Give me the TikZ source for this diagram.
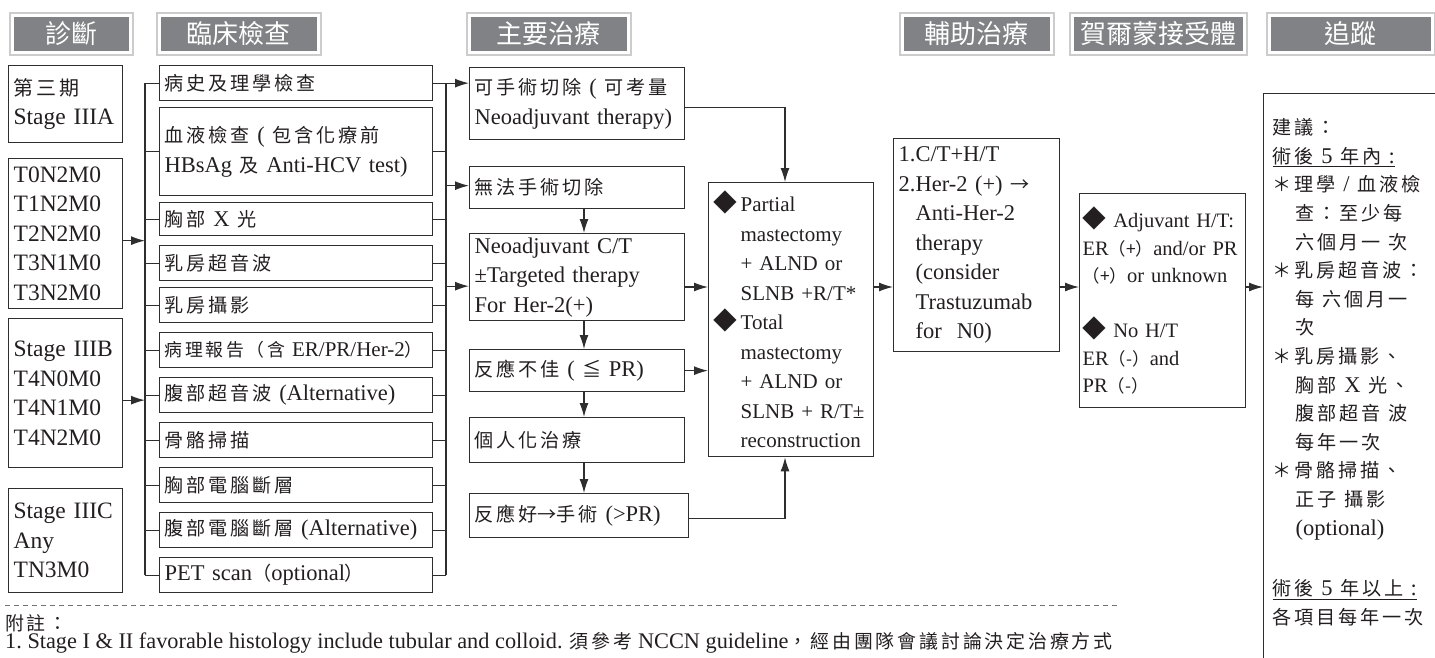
\documentclass[tikz,border=0pt]{standalone}
\usepackage{fontspec}
\setmainfont{Liberation Serif}
\newfontfamily\zh[Scale=0.85,LetterSpace=15]{Noto Sans CJK TC}
\newfontfamily\zhp[Scale=0.85]{Noto Sans CJK TC}
\newfontfamily\hdfont{Noto Sans CJK TC}
\usetikzlibrary{arrows.meta}
\definecolor{hdgray}{HTML}{808285}
\definecolor{ink}{HTML}{231F20}
\definecolor{frame}{HTML}{2E2E2E}
\newcommand{\dia}{{\fontsize{28}{29.5}\zhp ◆}}
\tikzset{
    hdr/.style={fill=hdgray, draw=white, line width=2.5pt,
        preaction={draw=black!20, line width=7pt}, % soft rim round the header
        text=white, font=\hdfont\fontsize{26}{26}\selectfont,
        anchor=north west, minimum height=37pt, inner sep=0pt},
    box/.style={draw=frame, line width=1.3pt, anchor=north west,
        align=left, inner xsep=5pt, inner ysep=1pt, text=ink,
        font=\fontsize{22.5}{29.5}\selectfont},
    boxsize/.code 2 args={\pgfmathsetmacro\bxw{#1-10}%
        \tikzset{minimum width=#1pt, minimum height=#2pt, text width=\bxw pt}},
    arr/.style={draw=frame, line width=1.3pt, -{Latex[length=14pt,width=9pt]}},
    ln/.style={draw=frame, line width=1.3pt},
    note/.style={text=ink, anchor=west, inner sep=0pt, font=\fontsize{22.3}{24}\selectfont},
}
\begin{document}
\begin{tikzpicture}[x=1pt,y=-1pt]
    \useasboundingbox (0,0) rectangle (1435,657);

    % column headers
    \node[hdr, minimum width=118pt] (hdDiag)   at (11,14)   {診斷};
    \node[hdr, minimum width=159pt] (hdExam)   at (158,14)  {臨床檢查};
    \node[hdr, minimum width=159pt] (hdMain)   at (468,14)  {主要治療};
    \node[hdr, minimum width=149pt] (hdAdj)    at (901,14)  {輔助治療};
    \node[hdr, minimum width=172pt] (hdHorm)   at (1071,14) {賀爾蒙接受體};
    \node[hdr, minimum width=163pt] (hdFollow) at (1268,14) {追蹤};

    % stages
    \node[box, boxsize={114}{77}, font=\fontsize{23.5}{29.5}\selectfont] (d1) at (8,65)
        {{\zh 第三期}\\Stage IIIA};
    \node[box, boxsize={114}{150}, font=\fontsize{23.5}{29.5}\selectfont] (d2) at (8,158)
        {T0N2M0\\T1N2M0\\T2N2M0\\T3N1M0\\T3N2M0};
    \node[box, boxsize={114}{149}, font=\fontsize{23.5}{29.5}\selectfont] (d3) at (8,318)
        {Stage IIIB\\T4N0M0\\T4N1M0\\T4N2M0};
    \node[box, boxsize={114}{104}, font=\fontsize{23.5}{29.5}\selectfont] (d4) at (8,488)
        {Stage IIIC\\Any\\TN3M0};

    % clinical work-up
    \node[box, boxsize={273}{35}] (c1)  at (159,65)  {\zh 病史及理學檢查};
    \node[box, boxsize={273}{88}] (c2)  at (159,107) {{\zh 血液檢查} ( {\zh 包含化療前}\\HBsAg {\zh 及} Anti-HCV test)};
    \node[box, boxsize={273}{33}] (c3)  at (159,202) {{\zh 胸部} X {\zh 光}};
    \node[box, boxsize={273}{35}] (c4)  at (159,245) {\zh 乳房超音波};
    \node[box, boxsize={273}{35}] (c5)  at (159,287) {\zh 乳房攝影};
    \node[box, boxsize={273}{35}, font=\fontsize{21}{29.5}\selectfont] (c6) at (159,332)
        {{\zh 病理報告（含} ER/PR/Her-2{\zh ）}};
    \node[box, boxsize={273}{35}] (c7)  at (159,377) {{\zh 腹部超音波} (Alternative)};
    \node[box, boxsize={273}{35}] (c8)  at (159,422) {\zh 骨骼掃描};
    \node[box, boxsize={273}{35}] (c9)  at (159,467) {\zh 胸部電腦斷層};
    \node[box, boxsize={273}{35}] (c10) at (159,512) {{\zh 腹部電腦斷層} (Alternative)};
    \node[box, boxsize={273}{35}] (c11) at (159,557) {PET scan{\zh （}optional{\zh ）}};

    % primary treatment
    \node[box, boxsize={215}{72}] (op)   at (469,67)  {{\zh 可手術切除} ( {\zh 可考量}\\Neoadjuvant therapy)};
    \node[box, boxsize={215}{42}] (no)   at (469,166) {\zh 無法手術切除};
    \node[box, boxsize={215}{87}] (neo)  at (469,233) {Neoadjuvant C/T\\±Targeted therapy\\For Her-2(+)};
    \node[box, boxsize={215}{42}] (poor) at (469,349) {{\zh 反應不佳} ( {\zh ≦} PR)};
    \node[box, boxsize={215}{45}] (pers) at (469,417) {\zh 個人化治療};
    \node[box, boxsize={219}{44}] (good) at (469,493) {{\zh 反應好}{\zhp →}{\zh 手術} (>PR)};

    \node[box, boxsize={165}{274}, font=\fontsize{21}{29.5}\selectfont] (surg) at (708,182)
        {\makebox[27pt][l]{\dia}Partial\\
         \hspace*{27pt}mastectomy\\
         \hspace*{27pt}+ ALND or\\
         \hspace*{27pt}SLNB +R/T*\\
         \makebox[27pt][l]{\dia}Total\\
         \hspace*{27pt}mastectomy\\
         \hspace*{27pt}+ ALND or\\
         \hspace*{27pt}SLNB + R/T±\\
         \hspace*{27pt}reconstruction};

    % adjuvant
    \node[box, boxsize={166}{213}] (ct) at (893,138)
        {1.C/T+H/T\\
         2.Her-2 (+) {\zhp →}\\
         \hspace*{17pt}Anti-Her-2\\
         \hspace*{17pt}therapy\\
         \hspace*{17pt}(consider\\
         \hspace*{17pt}Trastuzumab\\
         \hspace*{17pt}for~~N0)};

    \node[box, boxsize={166}{214}, inner xsep=3pt, text width=160pt,
          font=\fontsize{20.5}{27.5}\selectfont] (hor) at (1079,193)
        {\dia\ Adjuvant H/T:\\
         ER{\zhp （+）}and/or~PR\\
         {\zhp （+）}or unknown\\[27.5pt]
         \dia\ No H/T\\
         ER{\zhp （-）}and\\
         PR{\zhp （-）}};

    % follow-up, runs off the page
    \node[box, minimum width=200pt, text width=182pt, inner xsep=9pt, inner ysep=25pt,
          font=\fontsize{22.5}{28.6}\selectfont] (fu) at (1263,93)
        {{\zh 建議：}\\
         \underline{{\zh 術後} 5 {\zh 年內} :}\\
         {\zh ＊理學} / {\zh 血液檢}\\
         \hspace*{23pt}{\zh 查：至少每}\\
         \hspace*{23pt}{\zh 六個月一 次}\\
         {\zh ＊乳房超音波：}\\
         \hspace*{23pt}{\zh 每 六個月一}\\
         \hspace*{23pt}{\zh 次}\\
         {\zh ＊乳房攝影、}\\
         \hspace*{23pt}{\zh 胸部} X {\zh 光、}\\
         \hspace*{23pt}{\zh 腹部超音 波}\\
         \hspace*{23pt}{\zh 每年一次}\\
         {\zh ＊骨骼掃描、}\\
         \hspace*{23pt}{\zh 正子 攝影}\\
         \hspace*{23pt}(optional)\\[32pt]
         \underline{{\zh 術後} 5 {\zh 年以上} :}\\
         {\zh 各項目每年一次}\\[40pt]
         \mbox{}};

    % buses of the work-up column
    \coordinate (lb) at (145,0);
    \coordinate (rb) at (446,0);
    \draw[ln] (c1.west -| lb) -- (c11.west -| lb);
    \draw[ln] (c1.east -| rb) -- (c11.east -| rb);
    \foreach \i in {1,...,11}
        \draw[ln] (c\i.west) -- (c\i.west -| lb) (c\i.east) -- (c\i.east -| rb);
    \draw[arr] ([yshift=-7pt]d2.east) -- ([yshift=-7pt]d2.east -| lb);
    \draw[arr] ([yshift=-7pt]d3.east) -- ([yshift=-7pt]d3.east -| lb);

    \draw[arr] (c1.east -| rb) -- (c1.east -| op.west);
    \draw[arr] ([yshift=2pt]no.west -| rb) -- ([yshift=2pt]no.west);
    \draw[arr] ([yshift=-9pt]neo.west -| rb) -- ([yshift=-9pt]neo.west);

    % treatment flow
    \coordinate (dn) at (584,0);
    \coordinate (up) at (785,0);
    \coordinate (mid) at (0,287);
    \draw[arr] (no.south -| dn) -- (neo.north -| dn);
    \draw[arr] (neo.south -| dn) -- (poor.north -| dn);
    \draw[arr] (poor.south -| dn) -- (pers.north -| dn);
    \draw[arr] (pers.south -| dn) -- (good.north -| dn);
    \draw[arr] ([yshift=-4pt]op.east) -| (surg.north -| up);
    \draw[arr] ([yshift=-3pt]good.east) -| (surg.south -| up);
    \draw[arr] (neo.east |- mid) -- (surg.west |- mid);
    \draw[arr] (poor.east) -- (poor.east -| surg.west);
    \draw[arr] (surg.east |- mid) -- (ct.west |- mid);
    \draw[arr] (ct.east |- mid) -- (hor.west |- mid);
    \draw[arr] (hor.east |- mid) -- (fu.west |- mid);

    % notes
    \draw[black!55, line width=1pt, dash pattern=on 5pt off 4pt] (5,605) -- (1120,605);
    \node[note] (noteHead) at (5,623) {\zh 附註：};
    \node[note] (noteOne) at (5,643)
        {1.\ Stage I \& II favorable histology include tubular and colloid. {\zh 須參考} NCCN guideline{\zh ，經由團隊會議討論決定治療方式}};
\end{tikzpicture}
\end{document}
